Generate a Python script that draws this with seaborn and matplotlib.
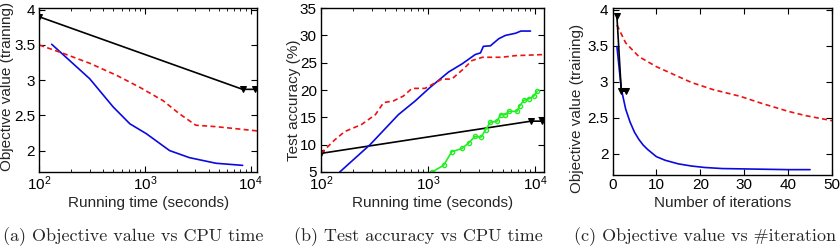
import matplotlib
matplotlib.use("Agg")
import matplotlib.pyplot as plt
import seaborn as sns

# (a) objective value vs running time
a_black_t = [100, 8400, 11000]
a_black_v = [3.9, 2.87, 2.87]
a_blue_t = [131, 300, 500, 720, 1030, 1710, 2630, 4700, 8400]
a_blue_v = [3.51, 3.02, 2.62, 2.38, 2.24, 2.0, 1.9, 1.82, 1.79]
a_red_t = [100, 169, 300, 537, 890, 1480, 2130, 3030, 4700, 11500]
a_red_v = [3.5, 3.38, 3.24, 3.07, 2.9, 2.71, 2.52, 2.36, 2.34, 2.28]

# (b) test accuracy vs running time
b_black_t = [100, 9200, 11700]
b_black_v = [8.4, 14.3, 14.3]
b_blue_t = [150, 288, 530, 760, 1050, 1560, 2090, 2770, 3100, 3300, 3840,
            4600, 5300, 6600, 7400, 9100]
b_blue_v = [5.0, 10.0, 15.5, 18.0, 20.5, 23.3, 24.8, 26.5, 26.8, 28.0, 28.1,
            29.4, 30.0, 30.4, 30.8, 30.8]
b_red_t = [100, 135, 167, 240, 323, 385, 475, 590, 710, 940, 1350, 1670,
           2160, 2580, 3240, 4900, 6600, 12300]
b_red_v = [8.4, 10.9, 12.4, 13.7, 15.5, 17.7, 18.0, 18.9, 20.3, 20.3, 22.0,
           22.0, 23.9, 25.4, 26.0, 26.0, 26.3, 26.5]
b_green_t = [1090, 1400, 1670, 2090, 2400, 2750, 3150, 3460, 3840, 4440, 4780,
             5300, 5700, 6800, 7200, 7900, 8800, 9800, 10500]
b_green_v = [5.0, 6.2, 8.7, 9.3, 10.3, 11.5, 11.4, 12.7, 14.1, 14.3, 15.5,
             15.5, 16.1, 16.1, 17.1, 18.1, 18.4, 18.9, 19.8]

# (c) objective value vs number of iterations
c_black_it = [1, 2, 3]
c_black_v = [3.91, 2.87, 2.87]
c_blue_it = [1, 2, 3, 4, 5, 6, 7, 8, 10, 12, 15, 18, 21, 25, 30, 35, 40, 45]
c_blue_v = [3.49, 2.9, 2.62, 2.44, 2.3, 2.2, 2.12, 2.06, 1.96, 1.91, 1.86,
            1.83, 1.81, 1.795, 1.79, 1.785, 1.78, 1.78]
c_red_it = [1, 3, 6, 10, 14, 18, 23, 29, 34, 40, 44, 50]
c_red_v = [3.79, 3.54, 3.35, 3.21, 3.1, 2.99, 2.89, 2.8, 2.7, 2.59, 2.53, 2.46]

captions = ["(a) Objective value vs CPU time",
            "(b) Test accuracy vs CPU time",
            "(c) Objective value vs #iteration"]

sns.set_style("white")
plt.rcParams["font.family"] = ["Liberation Sans", "DejaVu Sans"]
plt.rcParams["mathtext.fontset"] = "custom"
plt.rcParams["mathtext.rm"] = "Liberation Sans"
plt.rcParams["mathtext.it"] = "Liberation Sans"

blue = "#0a0ae0"
red = "#ee1111"
green = "#22ee22"
dash = (0, (3, 2))

fig = plt.figure(figsize=(8.4, 2.46), dpi=100)
ax_a = fig.add_axes([0.0468, 0.302, 0.2592, 0.664])
ax_b = fig.add_axes([0.3821, 0.301, 0.2661, 0.666])
ax_c = fig.add_axes([0.7292, 0.287, 0.2613, 0.679])

# panel a
ax_a.set_xscale("log")
sns.lineplot(x=a_black_t, y=a_black_v, ax=ax_a, color="k", lw=1.2,
             marker="v", markersize=4, markeredgecolor="k")
sns.lineplot(x=a_blue_t, y=a_blue_v, ax=ax_a, color=blue, lw=1.2)
sns.lineplot(x=a_red_t, y=a_red_v, ax=ax_a, color=red, lw=1.2, linestyle=dash)
ax_a.set_xlim(100, 11500)
ax_a.set_ylim(1.7, 4.02)
ax_a.set_yticks([2, 2.5, 3, 3.5, 4])
ax_a.set_yticklabels(["2", "2.5", "3", "3.5", "4"])
ax_a.set_xlabel("Running time (seconds)")
ax_a.set_ylabel("Objective value (training)")

# panel b
ax_b.set_xscale("log")
sns.lineplot(x=b_black_t, y=b_black_v, ax=ax_b, color="k", lw=1.2,
             marker="v", markersize=4, markeredgecolor="k")
sns.lineplot(x=b_blue_t, y=b_blue_v, ax=ax_b, color=blue, lw=1.2)
sns.lineplot(x=b_red_t, y=b_red_v, ax=ax_b, color=red, lw=1.2, linestyle=dash)
sns.lineplot(x=b_green_t, y=b_green_v, ax=ax_b, color=green, lw=1.2,
             marker="o", markersize=3, markeredgecolor=green,
             markerfacecolor="none", markeredgewidth=1)
ax_b.set_xlim(100, 12300)
ax_b.set_ylim(5, 35)
ax_b.set_yticks([5, 10, 15, 20, 25, 30, 35])
ax_b.set_xlabel("Running time (seconds)")
ax_b.set_ylabel("Test accuracy (%)")

# panel c
sns.lineplot(x=c_blue_it, y=c_blue_v, ax=ax_c, color=blue, lw=1.2)
sns.lineplot(x=c_red_it, y=c_red_v, ax=ax_c, color=red, lw=1.2, linestyle=dash)
sns.lineplot(x=c_black_it, y=c_black_v, ax=ax_c, color="k", lw=1.2,
             marker="v", markersize=4, markeredgecolor="k")
ax_c.set_xlim(0, 50)
ax_c.set_ylim(1.7, 4.02)
ax_c.set_xticks([0, 10, 20, 30, 40, 50])
ax_c.set_yticks([2, 2.5, 3, 3.5, 4])
ax_c.set_yticklabels(["2", "2.5", "3", "3.5", "4"])
ax_c.set_xlabel("Number of iterations")
ax_c.set_ylabel("Objective value (training)")

for ax in (ax_a, ax_b, ax_c):
    for s in ax.spines.values():
        s.set_visible(True)
        s.set_color("k")
        s.set_linewidth(1.0)
    ax.tick_params(which="both", direction="in", top=True, right=True,
                   bottom=True, left=True, labelsize=11, colors="k")
    ax.tick_params(axis="x", pad=2)
    ax.tick_params(axis="y", pad=3)
    ax.tick_params(which="major", length=4)
    ax.tick_params(which="minor", length=2)
    ax.xaxis.label.set_size(11)
    ax.yaxis.label.set_size(11)

ax_a.yaxis.set_label_coords(-0.118, 0.52)
ax_b.yaxis.set_label_coords(-0.089, 0.44)
ax_c.yaxis.set_label_coords(-0.13, 0.40)
ax_a.xaxis.set_label_coords(0.5, -0.149)
ax_b.xaxis.set_label_coords(0.5, -0.146)
ax_c.xaxis.set_label_coords(0.5, -0.123)

for xc, txt in zip([133, 418, 705], captions):
    fig.text(xc / 840, 1 - 237 / 246, txt, ha="center", va="center",
             family="cmr10", size=13)

fig.savefig("out.png", dpi=100)
